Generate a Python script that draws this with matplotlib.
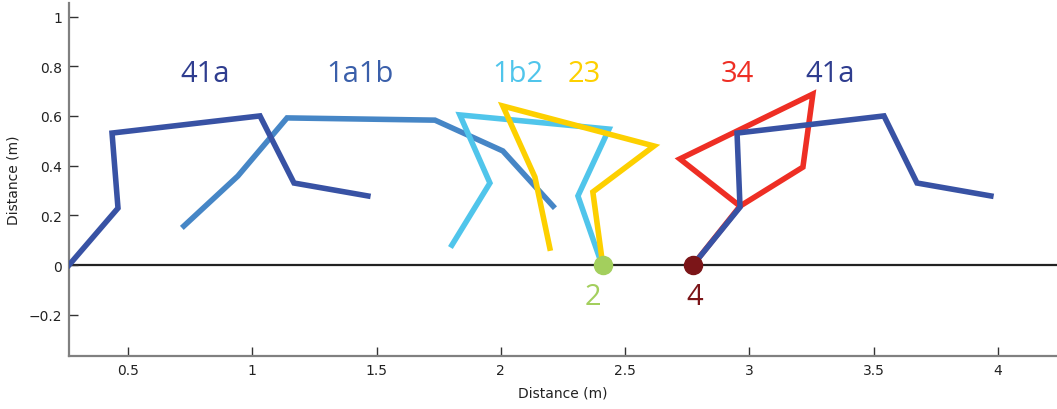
import matplotlib
matplotlib.use("Agg")
import matplotlib.pyplot as plt

# trajectories, x / y in metres
leg_41a_left_x = [0.263, 0.46, 0.436, 1.031, 1.168, 1.465]
leg_41a_left_y = [0.0, 0.229, 0.531, 0.600, 0.330, 0.278]
leg_1a1b_x = [0.725, 0.942, 1.140, 1.735, 2.008, 2.210]
leg_1a1b_y = [0.157, 0.358, 0.592, 0.583, 0.459, 0.237]
leg_1b2_x = [1.803, 1.956, 1.835, 2.435, 2.310, 2.407]
leg_1b2_y = [0.080, 0.330, 0.604, 0.547, 0.278, 0.0]
leg_23_x = [2.197, 2.137, 2.008, 2.616, 2.370, 2.410]
leg_23_y = [0.068, 0.354, 0.640, 0.479, 0.294, 0.0]
leg_34_x = [2.773, 2.962, 2.720, 3.255, 3.215, 2.962]
leg_34_y = [0.0, 0.237, 0.427, 0.688, 0.394, 0.237]
leg_41a_right_x = [2.773, 2.962, 2.950, 3.541, 3.674, 3.971]
leg_41a_right_y = [0.0, 0.233, 0.531, 0.600, 0.330, 0.278]

point_2 = (2.41, 0.0)
point_4 = (2.773, 0.0)

x_ticks = [0.5, 1, 1.5, 2, 2.5, 3, 3.5, 4]
y_ticks = [-0.2, 0, 0.2, 0.4, 0.6, 0.8, 1]

navy = "#2f3d8f"
dark_blue = "#3852a4"
mid_blue = "#4686c6"
cyan = "#50c5eb"
yellow = "#fdd000"
red = "#ee2e24"
green = "#a3cf5d"
dark_red = "#7b1518"

fig = plt.figure(figsize=(10.57, 4.10), dpi=100)
ax = fig.add_axes([0.0653, 0.1293, 0.9347, 0.8607])

ax.axhline(0, color="#222222", lw=1.6, zorder=1)

lw = 4.0
ax.plot(leg_41a_left_x, leg_41a_left_y, color=dark_blue, lw=lw, solid_joinstyle="miter", zorder=3)
ax.plot(leg_1a1b_x, leg_1a1b_y, color=mid_blue, lw=lw, solid_joinstyle="miter", zorder=2)
ax.plot(leg_1b2_x, leg_1b2_y, color=cyan, lw=lw, solid_joinstyle="miter", zorder=2)
ax.plot(leg_23_x, leg_23_y, color=yellow, lw=lw, solid_joinstyle="miter", zorder=3)
ax.plot(leg_34_x, leg_34_y, color=red, lw=lw, solid_joinstyle="miter", zorder=2)
ax.plot(leg_41a_right_x, leg_41a_right_y, color=dark_blue, lw=lw, solid_joinstyle="miter", zorder=3)

ax.plot(*point_2, "o", color=green, ms=13, zorder=4)
ax.plot(*point_4, "o", color=dark_red, ms=13, zorder=4)

lab_kw = dict(fontsize=21, family="Open Sans", ha="center", va="center")
ax.text(0.81, 0.769, "41a", color=navy, **lab_kw)
ax.text(1.433, 0.769, "1a1b", color="#3a5faa", **lab_kw)
ax.text(2.069, 0.769, "1b2", color=cyan, **lab_kw)
ax.text(2.334, 0.769, "23", color=yellow, **lab_kw)
ax.text(2.950, 0.769, "34", color=red, **lab_kw)
ax.text(3.324, 0.769, "41a", color=navy, **lab_kw)
ax.text(2.37, -0.125, "2", color=green, **lab_kw)
ax.text(2.781, -0.125, "4", color=dark_red, **lab_kw)

ax.set_xlim(0.263, 4.237)
ax.set_ylim(-0.366, 1.054)
ax.set_xticks(x_ticks)
ax.set_xticklabels([f"{t:g}" for t in x_ticks])
ax.set_yticks(y_ticks)
ax.set_yticklabels(["\u22120.2" if t < 0 else f"{t:g}" for t in y_ticks])

for side in ("top", "right"):
    ax.spines[side].set_visible(False)
for side in ("left", "bottom"):
    ax.spines[side].set_color("#808080")
    ax.spines[side].set_linewidth(1.6)
ax.tick_params(direction="in", length=6.5, width=1, color="#333333",
               labelsize=10, labelcolor="#222222", pad=5)
ax.set_xlabel("Distance (m)", fontsize=10, color="#222222", labelpad=6)
ax.set_ylabel("Distance (m)", fontsize=10, color="#222222", labelpad=6)

fig.savefig("out.png", dpi=100)
